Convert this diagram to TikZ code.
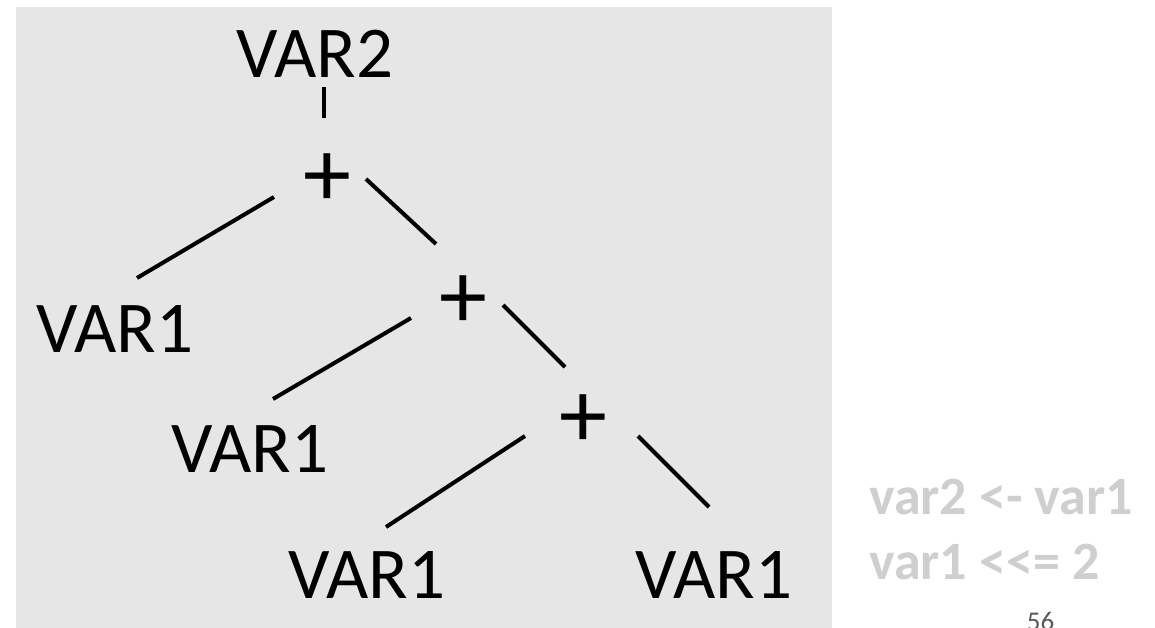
\documentclass[tikz,border=0pt]{standalone}
\usepackage{fontspec}
\setmainfont{Carlito}[Ligatures=TeXOff]
\definecolor{bgpanel}{HTML}{E7E6E6}
\definecolor{notegray}{HTML}{D0CECE}
\definecolor{pagegray}{HTML}{595959}
\begin{document}
\begin{tikzpicture}[x=1pt,y=-1pt,
  lbl/.style={inner sep=0pt,anchor=base,font=\fontsize{73}{80}\selectfont},
  op/.style={inner sep=0pt,anchor=center,font=\fontsize{96}{100}\selectfont},
  edge/.style={line width=4pt,black},
  note/.style={inner sep=0pt,anchor=base west,text=notegray,font=\fontsize{54}{58}\selectfont\bfseries}]
\useasboundingbox (0,0) rectangle (1155,628);
\fill[bgpanel] (16,7) rectangle (832,628);
\node[lbl] (r) at (314.5,78) {VAR2};
\node[op] (p1) at (327,180.5) {+};
\node[lbl] (a) at (114.5,352) {VAR1};
\node[op] (p2) at (463,302) {+};
\node[lbl] (b) at (250,472) {VAR1};
\node[op] (p3) at (583,421.5) {+};
\node[lbl] (c) at (366.5,598) {VAR1};
\node[lbl] (d) at (714,598) {VAR1};
\draw[edge] ([shift={(9.5,9)}]r.base) -- ([shift={(-3,-62.5)}]p1.center);
\draw[edge] ([shift={(-53,16.5)}]p1.center) -- ([shift={(22.5,-74)}]a.base);
\draw[edge] ([shift={(39,-1.5)}]p1.center) -- ([shift={(-27,-58)}]p2.center);
\draw[edge] ([shift={(-52,16)}]p2.center) -- ([shift={(23,-73)}]b.base);
\draw[edge] ([shift={(40,3)}]p2.center) -- ([shift={(-18,-54.5)}]p3.center);
\draw[edge] ([shift={(-58,14.5)}]p3.center) -- ([shift={(19.5,-71)}]c.base);
\draw[edge] ([shift={(55,14.5)}]p3.center) -- ([shift={(-5,-91)}]d.base);
\node[note] (n1) at (869,514) {var2 <- var1};
\node[note] (n2) at (869,579) {var1 <<= 2};
\node[inner sep=0pt,anchor=base,text=pagegray,font=\fontsize{27}{30}\selectfont] (pg) at (1040.5,630) {56};
\end{tikzpicture}
\end{document}
